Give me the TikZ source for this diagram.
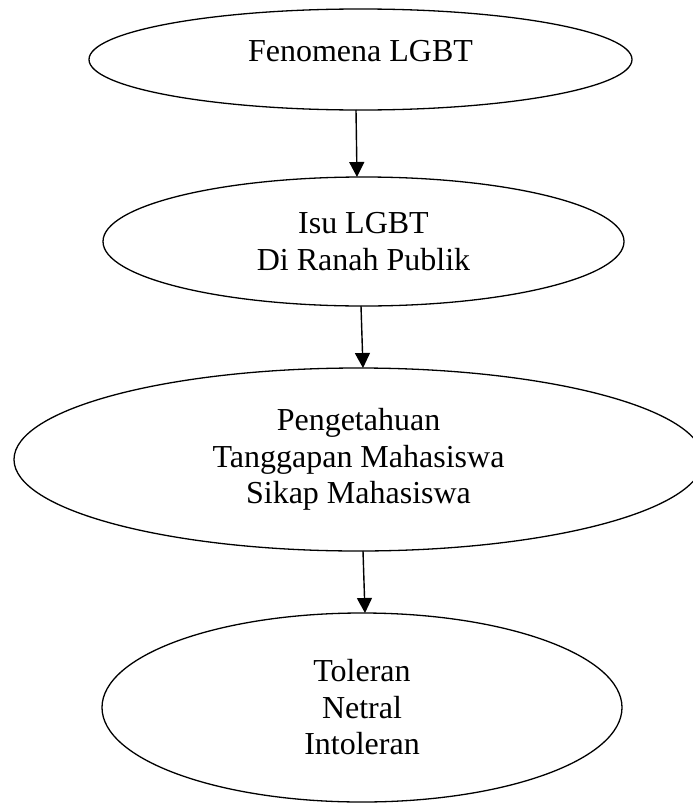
\documentclass[tikz,border=0pt]{standalone}
\usepackage{fontspec}
\setmainfont{Liberation Serif}
\usetikzlibrary{shapes,arrows.meta}

\begin{document}
\begin{tikzpicture}[x=1pt, y=-1pt,
                    oval/.style={ellipse, draw, line width=1.3pt, inner sep=0pt, outer sep=0pt, align=center, font=\fontsize{32}{36.5}\selectfont},
                    >={Triangle[length=15pt,width=15pt]}, line width=1.4pt]
                    \useasboundingbox (0,0) rectangle (693,803);
                    \node[oval, minimum width=543pt, minimum height=101pt, text depth=16.6pt] (fenomena) at (360.5,59.5) {Fenomena LGBT};
                    \node[oval, minimum width=521pt, minimum height=129pt] (isu) at (363.5,241.5) {Isu LGBT\\Di Ranah Publik};
                    \draw[->] ([xshift=-4.5pt]fenomena.south) -- ([xshift=-6.5pt]isu.north);
                    \node[oval, minimum width=689pt, minimum height=183pt] (mahasiswa) at (358.5,459.5) {Pengetahuan\\Tanggapan Mahasiswa\\Sikap Mahasiswa};
                    \draw[->] ([xshift=-2.5pt]isu.south) -- ([xshift=4.5pt]mahasiswa.north);
                    \node[oval, minimum width=520pt, minimum height=189pt] (sikap) at (362,707.5) {Toleran\\Netral\\Intoleran};
                    \draw[->] ([xshift=4.5pt]mahasiswa.south) -- ([xshift=3pt]sikap.north);
                \end{tikzpicture}
\end{document}
